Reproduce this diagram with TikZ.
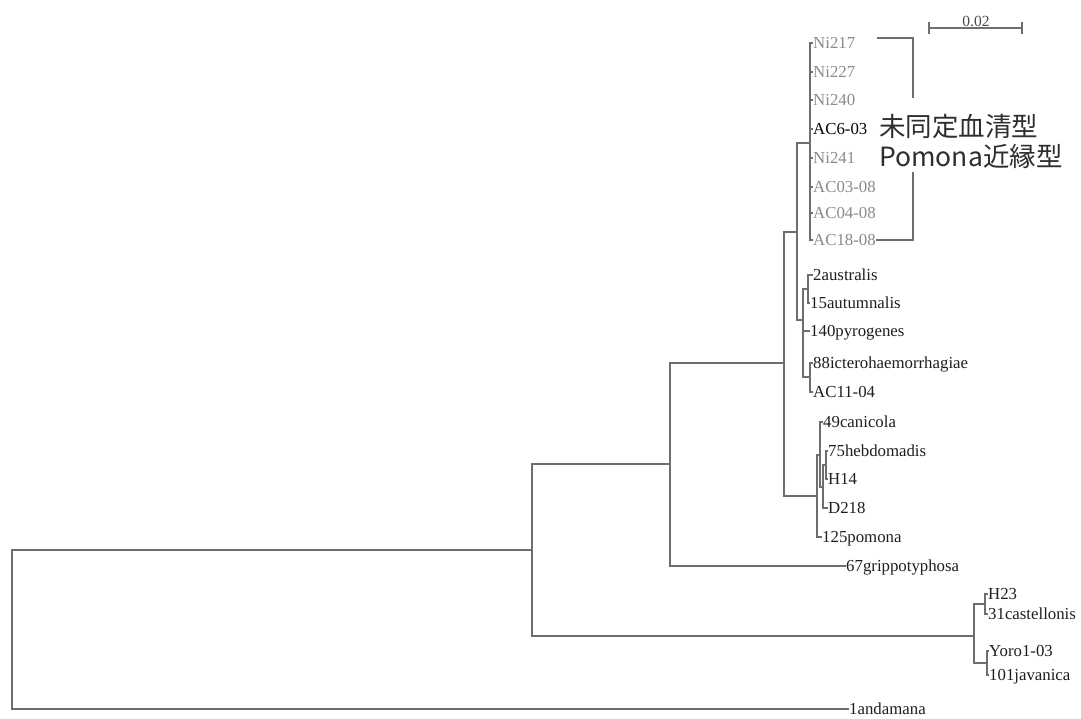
\documentclass[tikz,border=0pt]{standalone}
\usepackage{fontspec}
\setmainfont{Liberation Serif}
\newfontfamily\cjk{Noto Sans CJK JP}
\definecolor{linec}{HTML}{6E6E6E}
\definecolor{labc}{HTML}{1E1E1E}
\definecolor{graylab}{HTML}{8A8A8A}
\definecolor{cjkc}{HTML}{2E2E2E}
\tikzset{
  br/.style={draw=linec, line width=1.3pt, line cap=rect},
  lab/.style={anchor=west, inner xsep=1pt, inner ysep=0pt, text height=12pt, text depth=1pt,
              font=\fontsize{16.8}{18}\selectfont, text=labc},
  glab/.style={lab, text=graylab},
  cjklab/.style={anchor=west, inner sep=0pt, font=\cjk\fontsize{26.5}{28}\selectfont, text=cjkc},
}
\begin{document}
\begin{tikzpicture}[x=1pt,y=-1pt]
\useasboundingbox (0,0) rectangle (1081,718);
% internal nodes
\coordinate (root) at (12,630);
\coordinate (A) at (532,550);
\coordinate (B) at (670,464);
\coordinate (C) at (784,363);
\coordinate (D) at (797,232);
\coordinate (NiG) at (810,143);
\coordinate (G) at (803,320);
\coordinate (E) at (808,289);
\coordinate (H) at (810,377);
\coordinate (P) at (817,496);
\coordinate (Q) at (820,455);
\coordinate (R) at (823,487);
\coordinate (S) at (826,465);
\coordinate (K) at (974,636);
\coordinate (L) at (985,604);
\coordinate (M) at (987,663);
% leaves
\node[glab] (ni217) at (812,43) {Ni217};
\node[glab] (ni227) at (812,72) {Ni227};
\node[glab] (ni240) at (812,100) {Ni240};
\node[lab, text=black] (ac603) at (812,129) {AC6-03};
\node[glab] (ni241) at (812,158) {Ni241};
\node[glab] (ac0308) at (812,187) {AC03-08};
\node[glab] (ac0408) at (812,213) {AC04-08};
\node[glab] (ac1808) at (812,240) {AC18-08};
\node[lab] (austr) at (812,275) {2australis};
\node[lab] (autum) at (809,303) {15autumnalis};
\node[lab] (pyro) at (809,331) {140pyrogenes};
\node[lab] (ictero) at (812,363) {88icterohaemorrhagiae};
\node[lab] (ac1104) at (812,392) {AC11-04};
\node[lab] (canic) at (822,422) {49canicola};
\node[lab] (hebd) at (827,451) {75hebdomadis};
\node[lab] (h14) at (827,479) {H14};
\node[lab] (d218) at (827,508) {D218};
\node[lab] (pomona) at (821,537) {125pomona};
\node[lab] (grippo) at (845,566) {67grippotyphosa};
\node[lab] (h23) at (987,594) {H23};
\node[lab] (cast) at (987,614) {31castellonis};
\node[lab] (yoro) at (988,651) {Yoro1-03};
\node[lab] (java) at (988,675) {101javanica};
\node[lab] (andam) at (848,709) {1andamana};
% branches
\draw[br] (root) |- (A);
\draw[br] (root) |- (andam.west);
\draw[br] (A) |- (B);
\draw[br] (A) |- (K);
\draw[br] (B) |- (C);
\draw[br] (B) |- (grippo.west);
\draw[br] (C) |- (D);
\draw[br] (C) |- (P);
\draw[br] (D) |- (NiG);
\draw[br] (D) |- (G);
\foreach \n in {ni217,ni227,ni240,ac603,ni241,ac0308,ac0408,ac1808}
  \draw[br] (NiG) |- (\n.west);
\draw[br] (G) |- (E);
\draw[br] (G) |- (pyro.west);
\draw[br] (G) |- (H);
\draw[br] (E) |- (austr.west);
\draw[br] (E) |- (autum.west);
\draw[br] (H) |- (ictero.west);
\draw[br] (H) |- (ac1104.west);
\draw[br] (P) |- (Q);
\draw[br] (P) |- (pomona.west);
\draw[br] (Q) |- (canic.west);
\draw[br] (Q) |- (R);
\draw[br] (R) |- (S);
\draw[br] (R) |- (d218.west);
\draw[br] (S) |- (hebd.west);
\draw[br] (S) |- (h14.west);
\draw[br] (K) |- (L);
\draw[br] (K) |- (M);
\draw[br] (L) |- (h23.west);
\draw[br] (L) |- (cast.west);
\draw[br] (M) |- (yoro.west);
\draw[br] (M) |- (java.west);
% scale bar
\coordinate (sb1) at (929,28);
\coordinate (sb2) at (1022,28);
\draw[br, line width=1.1pt] (sb1) -- (sb2);
\draw[br, line width=1.1pt] ([yshift=-5pt]sb1) -- ([yshift=5pt]sb1);
\draw[br, line width=1.1pt] ([yshift=-5pt]sb2) -- ([yshift=5pt]sb2);
\node[anchor=base, inner sep=0pt, font=\fontsize{15.5}{16}\selectfont, text=labc!80] (sbl) at (976,26) {0.02};
% bracket
\coordinate (bt0) at (878,38);
\coordinate (bt1) at (913,38);
\coordinate (bm1) at (913,97);
\coordinate (bm2) at (913,173);
\coordinate (bb1) at (913,240);
\draw[br] (bt0) -- (bt1) -- (bm1);
\draw[br] (bm2) -- (bb1) -- (ac1808.east);
\node[cjklab] (t1) at (879,126) {未同定血清型};
\node[cjklab] (t2) at (879,156) {Pomona近縁型};
\end{tikzpicture}
\end{document}
